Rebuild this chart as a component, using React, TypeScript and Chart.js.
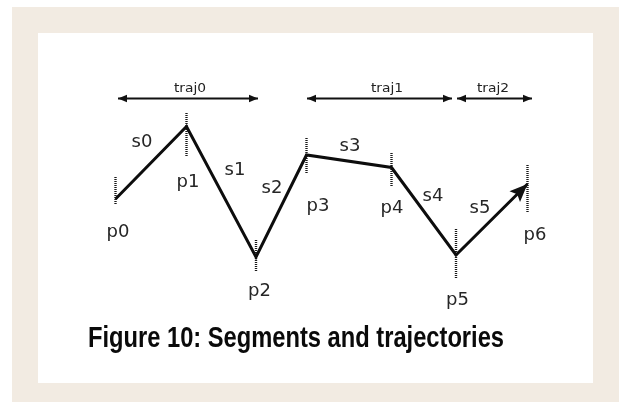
import React, { useEffect, useRef } from "react";
import { Chart, registerables } from "chart.js";

Chart.register(...registerables);

// ---- Diagram data (units: x across, y upward) ----
const pointNames = ["p0", "p1", "p2", "p3", "p4", "p5", "p6"];
const pointX = [7.75, 14.85, 21.8, 26.85, 35.35, 41.8, 48.95];
const pointY = [18.4, 25.65, 12.6, 22.8, 21.55, 12.8, 19.9];
const tickTop = [20.6, 27.0, 14.3, 24.5, 23.0, 15.4, 21.8];
const tickBottom = [17.9, 22.6, 11.1, 21.0, 19.6, 10.5, 17.1];
const pointLabelX = [8.0, 15.0, 22.15, 28.0, 35.4, 41.95, 49.7];
const pointLabelY = [14.6, 19.65, 8.7, 17.2, 17.05, 7.8, 14.3];

const segmentNames = ["s0", "s1", "s2", "s3", "s4", "s5"];
const segmentLabelX = [10.4, 19.7, 23.4, 31.2, 39.5, 44.2];
const segmentLabelY = [23.6, 20.8, 18.97, 23.2, 18.2, 17.0];

const trajNames = ["traj0", "traj1", "traj2"];
const trajStart = [8.0, 26.9, 41.9];
const trajEnd = [22.0, 41.4, 49.4];
const trajY = [28.45, 28.45, 28.45];
const trajLabelX = [15.2, 34.9, 45.5];
const trajLabelY = [29.1, 29.1, 29.1];

const caption = "Figure 10: Segments and trajectories";

const X_MAX = 55.5;
const Y_MAX = 35;

function drawText(
  ctx: CanvasRenderingContext2D,
  text: string,
  x: number,
  y: number,
  font: string,
  sx: number,
  color: string,
  align: CanvasTextAlign = "center"
) {
  ctx.save();
  ctx.font = font;
  ctx.fillStyle = color;
  ctx.textAlign = align;
  ctx.textBaseline = "alphabetic";
  ctx.translate(x, y);
  ctx.scale(sx, 1);
  ctx.fillText(text, 0, 0);
  ctx.restore();
}

function arrowHead(
  ctx: CanvasRenderingContext2D,
  tipX: number,
  tipY: number,
  fromX: number,
  fromY: number,
  len: number,
  half: number,
  notch: number
) {
  const ang = Math.atan2(tipY - fromY, tipX - fromX);
  const c = Math.cos(ang);
  const s = Math.sin(ang);
  const bx = tipX - c * len;
  const by = tipY - s * len;
  const nx = tipX - c * len * notch;
  const ny = tipY - s * len * notch;
  ctx.beginPath();
  ctx.moveTo(tipX, tipY);
  ctx.lineTo(bx - s * half, by + c * half);
  ctx.lineTo(nx, ny);
  ctx.lineTo(bx + s * half, by - c * half);
  ctx.closePath();
  ctx.fill();
}

const decorPlugin = {
  id: "decor",
  afterDatasetsDraw(chart: any) {
    const ctx: CanvasRenderingContext2D = chart.ctx;
    const xs = chart.scales.x;
    const ys = chart.scales.y;
    const px = (v: number) => xs.getPixelForValue(v);
    const py = (v: number) => ys.getPixelForValue(v);

    ctx.save();
    ctx.fillStyle = "#111";
    for (let i = 0; i < trajNames.length; i++) {
      const y = py(trajY[i]);
      const a = px(trajStart[i]);
      const b = px(trajEnd[i]);
      arrowHead(ctx, a, y, b, y, 9, 3.8, 1);
      arrowHead(ctx, b, y, a, y, 9, 3.8, 1);
    }
    const n = pointX.length - 1;
    arrowHead(
      ctx,
      px(pointX[n]),
      py(pointY[n]),
      px(pointX[n - 1]),
      py(pointY[n - 1]),
      18,
      7.5,
      0.8
    );
    ctx.restore();

    const labelFont = '17px "DejaVu Sans", sans-serif';
    const trajFont = '12px "DejaVu Sans", sans-serif';
    for (let i = 0; i < trajNames.length; i++) {
      drawText(ctx, trajNames[i], px(trajLabelX[i]), py(trajLabelY[i]), trajFont, 1.15, "#222");
    }
    for (let i = 0; i < pointNames.length; i++) {
      drawText(ctx, pointNames[i], px(pointLabelX[i]), py(pointLabelY[i]), labelFont, 1.06, "#262626");
    }
    for (let i = 0; i < segmentNames.length; i++) {
      drawText(ctx, segmentNames[i], px(segmentLabelX[i]), py(segmentLabelY[i]), labelFont, 1.06, "#262626");
    }

    ctx.save();
    const capFont = 'bold 30px "Liberation Sans", Arial, sans-serif';
    ctx.font = capFont;
    const w = ctx.measureText(caption).width;
    ctx.restore();
    drawText(ctx, caption, 50, 314, capFont, 416 / w, "#0a0a0a", "left");
  },
};

export default function App() {
  const canvasRef = useRef<HTMLCanvasElement | null>(null);

  useEffect(() => {
    if (!canvasRef.current) return;
    const pathData = pointX.map((x, i) => ({ x, y: pointY[i] }));
    const datasets: any[] = [
      {
        label: "path",
        data: pathData,
        showLine: true,
        borderColor: "#0d0d0d",
        borderWidth: 3,
        pointRadius: 0,
        borderJoinStyle: "miter",
        borderCapStyle: "butt",
        fill: false,
        tension: 0,
        order: 1,
      },
    ];
    pointX.forEach((x, i) => {
      datasets.push({
        label: "tick" + i,
        data: [
          { x, y: tickTop[i] },
          { x, y: tickBottom[i] },
        ],
        showLine: true,
        borderColor: "#1a1a1a",
        borderWidth: 2.4,
        borderDash: [1, 1],
        pointRadius: 0,
        fill: false,
        order: 2,
      });
    });
    trajNames.forEach((_, i) => {
      datasets.push({
        label: "traj" + i,
        data: [
          { x: trajStart[i], y: trajY[i] },
          { x: trajEnd[i], y: trajY[i] },
        ],
        showLine: true,
        borderColor: "#111",
        borderWidth: 2,
        pointRadius: 0,
        fill: false,
        order: 2,
      });
    });

    const chart = new Chart(canvasRef.current, {
      type: "scatter",
      data: { datasets },
      options: {
        animation: false,
        responsive: false,
        devicePixelRatio: 1,
        events: [],
        layout: { padding: 0 },
        plugins: {
          legend: { display: false },
          tooltip: { enabled: false },
          title: { display: false },
        },
        scales: {
          x: { type: "linear", display: false, min: 0, max: X_MAX },
          y: { type: "linear", display: false, min: 0, max: Y_MAX },
        },
      },
      plugins: [decorPlugin],
    } as any);
    return () => chart.destroy();
  }, []);

  return (
    <div style={{ position: "absolute", left: 0, top: 0, width: 619, height: 402, background: "#fff", overflow: "hidden" }}>
      <div style={{ position: "absolute", left: 12, top: 7, width: 607, height: 395, background: "#f2ebe2" }} />
      <div style={{ position: "absolute", left: 38, top: 33, width: 555, height: 350, background: "#ffffff" }}>
        <canvas ref={canvasRef} width={555} height={350} style={{ display: "block", width: 555, height: 350 }} />
      </div>
    </div>
  );
}
